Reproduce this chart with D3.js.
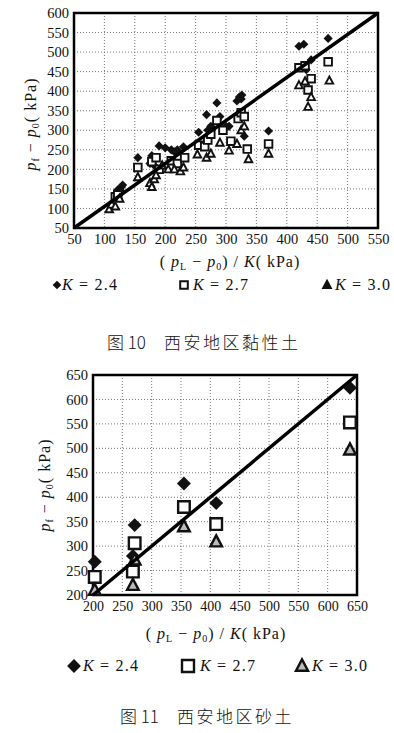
<!DOCTYPE html>
<meta charset="utf-8">
<style>
body { margin: 0; background: #fff; }
svg text { font-family: "Liberation Serif", "DejaVu Serif", serif; fill: #111; }
.grid line { stroke: #666; stroke-width: 0.9; stroke-dasharray: 1,2; }
.tick text { font-size: 14px; }
.cap { font-family: "Noto Sans CJK SC", sans-serif !important; font-weight: 300; }
</style>
<svg width="394" height="733"></svg>
<script src="https://d3js.org/d3.v7.min.js"></script>
<script>

// ---- fig 10 : clay ----
var clayX24 = [122,125,127,128,130,155,175,178,180,182,190,200,210,215,220,230,255,268,270,275,285,290,300,305,318,322,325,326,330,370,420,428,432,440,468];
var clayY24 = [148,150,145,155,160,230,215,235,225,210,260,255,250,245,250,258,295,340,300,310,370,335,310,310,375,385,380,390,285,298,515,520,455,480,535];
var clayX27 = [118,122,155,178,185,190,210,220,232,255,265,270,275,285,295,308,320,325,330,335,370,420,430,435,440,468];
var clayY27 = [130,135,205,220,230,200,222,215,230,262,258,275,290,325,300,272,330,345,335,252,265,460,465,403,432,475];
var clayX30 = [108,112,118,125,155,175,178,182,185,195,205,215,225,230,253,268,275,290,305,318,325,330,337,370,420,430,435,440,470];
var clayY30 = [98,110,105,125,180,165,155,175,185,210,200,200,195,205,238,230,240,268,248,265,300,310,226,240,415,425,360,385,427];
var clayTicks = [50,100,150,200,250,300,350,400,450,500,550];
var clayYTicks = [50,100,150,200,250,300,350,400,450,500,550,600];

// ---- fig 11 : sand ----
var sandX = [203,271,268,355,410,638];
var sandY24 = [268,343,280,428,388,624];
var sandY27 = [237,306,248,380,345,553];
var sandY30 = [210,272,220,340,309,497];
var sandX30 = [203,271,268,355,410,638];
var sandTicks = [200,250,300,350,400,450,500,550,600,650];

var svg = d3.select("svg");

function shape(type, r) {
  if (type == "d") return "M0," + (-r) + "L" + r + ",0L0," + r + "L" + (-r) + ",0Z";
  if (type == "s") return "M" + (-r) + "," + (-r) + "h" + 2*r + "v" + 2*r + "h" + (-2*r) + "Z";
  return "M0," + (-r*1.1) + "L" + r + "," + (r*0.8) + "L" + (-r) + "," + (r*0.8) + "Z";
}

function drawChart(o) {
  var x = d3.scaleLinear().domain(o.xd).range([o.l, o.r]);
  var y = d3.scaleLinear().domain(o.yd).range([o.b, o.t]);
  var g = svg.append("g");

  var grid = g.append("g").attr("class", "grid");
  grid.selectAll(".gx").data(o.xt.slice(1, -1)).enter().append("line")
      .attr("x1", d => x(d)).attr("x2", d => x(d)).attr("y1", o.t).attr("y2", o.b);
  grid.selectAll(".gy").data(o.yt.slice(1, -1)).enter().append("line")
      .attr("y1", d => y(d)).attr("y2", d => y(d)).attr("x1", o.l).attr("x2", o.r);

  g.append("g").attr("transform", "translate(0," + o.b + ")")
    .call(d3.axisBottom(x).tickValues(o.xt).tickSize(0).tickPadding(o.xpad))
    .call(a => a.select(".domain").remove())
    .selectAll("text").style("font-size", o.fs + "px");
  g.append("g").attr("transform", "translate(" + o.l + ",0)")
    .call(d3.axisLeft(y).tickValues(o.yt).tickSize(0).tickPadding(5))
    .call(a => a.select(".domain").remove())
    .selectAll("text").style("font-size", "14.5px");

  g.append("rect").attr("x", o.l).attr("y", o.t).attr("width", o.r - o.l).attr("height", o.b - o.t)
    .attr("fill", "none").attr("stroke", "#000").attr("stroke-width", 2.5);

  var sr = o.ms;
  o.series.forEach(function(s) {
    g.append("g").selectAll("path").data(d3.zip(s.x, s.y)).enter().append("path")
      .attr("transform", d => "translate(" + x(d[0]) + "," + y(d[1]) + ")")
      .attr("d", shape(s.type, s.type == "d" ? sr * 1.2 : sr))
      .attr("fill", s.type == "d" ? "#111" : s.fill)
      .attr("stroke", "#111").attr("stroke-width", s.type == "d" ? 0 : o.sw);
  });

  g.append("line").attr("x1", x(o.line[0])).attr("y1", y(o.line[1]))
    .attr("x2", x(o.line[2])).attr("y2", y(o.line[3]))
    .attr("stroke", "#000").attr("stroke-width", 3.5);

  // axis titles
  var xt = g.append("text").attr("x", o.xtx).attr("y", o.xty).attr("text-anchor", "middle")
    .style("font-size", "16px").style("letter-spacing", "1px");
  xt.append("tspan").text("( ");
  xt.append("tspan").style("font-style", "italic").text("p");
  xt.append("tspan").attr("dy", 3).style("font-size", "10px").text("L");
  xt.append("tspan").attr("dy", -3).text(" − ");
  xt.append("tspan").style("font-style", "italic").text("p");
  xt.append("tspan").attr("dy", 3).style("font-size", "10px").text("0");
  xt.append("tspan").attr("dy", -3).text(") / ");
  xt.append("tspan").style("font-style", "italic").text("K");
  xt.append("tspan").text("( kPa)");

  var yt = g.append("text").attr("transform", "translate(" + o.ytx + "," + o.yty + ") rotate(-90)")
    .attr("text-anchor", "middle").style("font-size", "16px").style("letter-spacing", "1px");
  yt.append("tspan").style("font-style", "italic").text("p");
  yt.append("tspan").attr("dy", 3).style("font-size", "10px").text("f");
  yt.append("tspan").attr("dy", -3).text(" − ");
  yt.append("tspan").style("font-style", "italic").text("p");
  yt.append("tspan").attr("dy", 3).style("font-size", "10px").text("0");
  yt.append("tspan").attr("dy", -3).text("( kPa)");

  // legend
  o.leg.forEach(function(lg, i) {
    var s = o.series[i];
    g.append("path").attr("transform", "translate(" + lg[0] + "," + o.legy + ")")
      .attr("d", shape(s.type, s.type == "d" ? o.lr * 1.15 : o.lr))
      .attr("fill", s.type == "s" ? "#fff" : (s.type == "d" ? "#111" : o.legTri))
      .attr("stroke", "#111").attr("stroke-width", s.type == "d" ? 0 : o.lsw);
    var t = g.append("text").attr("x", lg[1]).attr("y", o.legy + 5).style("font-size", "16px")
      .style("letter-spacing", "1.2px");
    t.append("tspan").style("font-style", "italic").text("K");
    t.append("tspan").text(" = " + s.label);
  });

  // caption
  var c = g.append("text").attr("x", o.capx).attr("y", o.capy).attr("class", "cap").style("font-size", "17px");
  c.append("tspan").text("图 " + o.num);
  c.append("tspan").attr("dx", 18).style("letter-spacing", "2.5px").text(o.cap);
}

drawChart({
  l: 74, r: 378, t: 13, b: 228, xd: [50, 550], yd: [50, 600],
  xt: clayTicks, yt: clayYTicks, xpad: 6, fs: 14.5, ms: 3.8, sw: 1.9,
  series: [
    {type: "d", x: clayX24, y: clayY24, label: "2.4", fill: "#111"},
    {type: "s", x: clayX27, y: clayY27, label: "2.7", fill: "#fff"},
    {type: "t", x: clayX30, y: clayY30, label: "3.0", fill: "#fff"}
  ],
  line: [50, 50, 550, 600],
  xtx: 230, xty: 267, ytx: 36, yty: 124,
  legy: 285, leg: [[57, 62], [184, 193], [327, 335]], lr: 3.8, lsw: 2, legTri: "#111",
  capx: 107, capy: 349, num: "10", cap: "西安地区黏性土"
});

drawChart({
  l: 93, r: 357, t: 375, b: 595, xd: [200, 650], yd: [200, 650],
  xt: sandTicks, yt: sandTicks, xpad: 6, fs: 14, ms: 5.8, sw: 2.4,
  series: [
    {type: "d", x: sandX, y: sandY24, label: "2.4", fill: "#111"},
    {type: "s", x: sandX, y: sandY27, label: "2.7", fill: "#fff"},
    {type: "t", x: sandX30, y: sandY30, label: "3.0", fill: "#bbb"}
  ],
  line: [200, 200, 650, 650],
  xtx: 216, xty: 639, ytx: 50, yty: 485,
  legy: 666, leg: [[74, 83], [188, 200], [302, 312]], lr: 6, lsw: 2.4, legTri: "#bbb",
  capx: 120, capy: 723, num: "11", cap: "西安地区砂土"
});
</script>
